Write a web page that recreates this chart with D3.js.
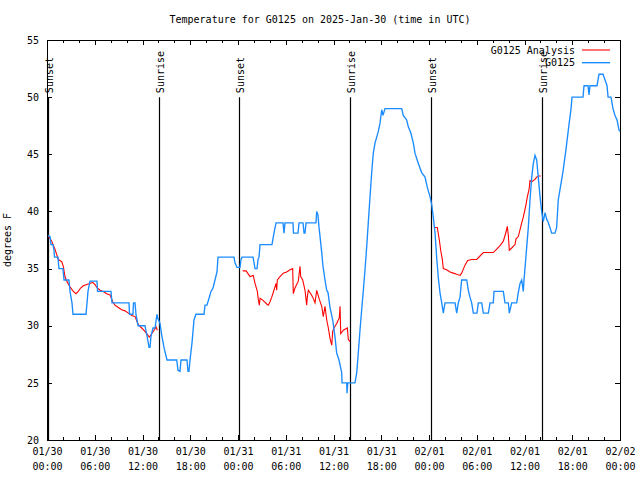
<!DOCTYPE html>
<html><head><meta charset="utf-8">
<script src="https://cdn.jsdelivr.net/npm/d3@7"></script>
<style>
body{margin:0;background:#fff}
svg{display:block}
text{font-family:"DejaVu Sans Mono",monospace;font-size:10px;fill:#000}
</style>
</head><body><svg id="c" width="640" height="480"></svg>
<script>
const chartTitle = "Temperature for G0125 on 2025-Jan-30 (time in UTC)";
const yLabel = "degrees F";
const seriesNames = ["G0125 Analysis", "G0125"];
const yTicks = [20, 25, 30, 35, 40, 45, 50, 55];
const startDate = "2025-01-30T00:00:00Z";
const endDate = "2025-02-02T00:00:00Z";
const eventNames = ["Sunset", "Sunrise", "Sunset", "Sunrise", "Sunset", "Sunrise"];
const eventHours = [0.15, 14.07, 24.17, 38.12, 48.2, 62.17];

// observed G0125: hours since 01/30 00:00 UTC, temperature F
const obsHours = [0.13,0.38,0.5,0.75,0.88,0.94,1.38,1.5,2.0,2.14,2.76,2.89,3.14,3.27,4.9,5.03,5.15,5.4,6.28,6.35,8.04,8.17,10.3,10.37,10.8,10.87,11.06,11.18,11.44,12.31,12.57,12.82,12.94,13.07,13.32,13.57,13.82,13.95,14.2,14.41,14.7,15.08,16.3,16.46,16.71,16.84,17.59,17.72,17.84,17.97,18.22,18.47,18.72,19.73,19.85,20.1,20.36,20.61,20.86,21.11,21.36,21.49,23.5,23.62,23.88,24.25,24.38,24.5,25.89,26.14,26.39,26.52,26.64,26.77,28.27,28.52,28.78,29.66,29.78,29.91,30.91,30.97,31.54,31.67,32.17,32.3,32.42,32.55,33.8,33.89,34.05,34.18,34.31,34.52,34.68,34.93,35.15,35.31,35.56,35.9,36.19,36.4,36.69,37.03,37.07,37.66,37.7,37.79,38.7,38.92,39.08,39.33,39.54,39.75,39.96,40.17,40.37,40.59,40.8,41.0,41.22,41.43,41.63,41.84,42.06,42.22,42.47,44.57,44.77,45.2,45.4,45.7,46.03,46.24,46.66,47.08,47.5,47.79,48.13,48.34,48.54,48.76,48.97,49.17,49.38,49.6,49.8,50.01,51.27,51.48,51.68,51.9,52.1,52.74,52.94,53.15,53.36,53.57,54.03,54.2,54.62,54.83,55.46,55.67,56.08,56.17,57.34,57.55,57.97,58.09,58.39,59.02,59.22,59.44,59.65,59.85,59.94,60.28,60.48,60.69,60.91,61.11,61.32,61.53,61.73,61.95,62.16,62.36,62.58,62.79,62.95,63.2,63.41,63.83,64.04,64.24,64.46,64.84,65.21,65.59,65.85,65.97,67.35,67.48,67.98,68.11,68.23,69.11,69.36,69.87,70.12,70.37,70.5,70.87,71.12,71.37,71.63,71.88,72.0];
const obsTemp = [37.9,37.8,37.1,37.1,36.6,36.0,36.0,35.0,35.0,34.0,34.0,33.0,32.0,31.0,31.0,32.0,33.0,33.9,33.9,33.0,33.0,32.0,32.0,31.0,31.0,32.0,32.0,31.0,30.0,30.0,29.1,28.1,28.1,29.1,29.8,29.8,31.0,30.6,30.2,29.2,28.1,27.0,27.0,26.1,26.0,27.0,27.0,26.0,26.0,27.0,28.5,30.5,31.0,31.0,31.8,31.8,32.4,33.0,33.3,34.0,34.7,36.0,36.0,35.5,35.1,35.1,35.8,36.0,36.0,35.0,35.0,35.8,36.0,37.1,37.1,38.1,39.0,39.0,38.1,39.0,39.0,38.1,38.1,39.0,39.0,38.1,38.1,39.0,39.0,40.0,39.7,38.6,37.8,36.4,35.2,34.0,33.1,32.9,31.6,30.5,29.0,27.6,27.0,25.9,25.0,25.0,24.1,25.0,25.0,25.9,27.3,29.6,31.4,33.1,34.9,36.9,39.0,41.3,43.4,45.1,46.0,46.5,47.0,47.7,48.9,48.4,49.0,49.0,48.4,48.0,47.4,46.9,46.0,45.1,44.2,43.4,43.0,42.1,41.3,40.6,39.5,38.1,35.9,34.2,32.9,32.0,31.1,32.0,32.0,31.1,32.0,32.5,34.0,34.0,33.1,32.5,32.0,31.1,31.1,32.0,32.0,31.1,31.1,32.0,32.0,33.0,33.0,32.0,32.0,31.1,32.0,32.0,32.9,33.7,34.0,33.0,34.0,36.9,38.6,41.0,43.0,44.2,44.9,44.5,43.0,41.3,40.0,39.1,39.9,39.3,39.1,38.6,38.1,38.1,38.6,41.0,41.9,43.5,45.4,47.6,49.0,50.0,50.0,51.0,51.0,50.2,51.0,51.0,52.0,52.0,51.5,51.0,50.0,50.0,49.0,48.4,48.0,47.1,47.0];

// G0125 Analysis (null = no data)
const anaHours = [0.13,0.59,1.0,1.42,1.85,2.05,2.26,2.48,2.89,3.3,3.64,3.93,4.23,4.56,4.99,5.4,5.74,6.03,6.32,6.66,7.07,7.5,7.92,8.26,8.54,8.96,9.39,9.8,10.22,10.64,11.06,11.47,11.9,12.19,12.53,12.86,13.16,13.45,13.7,13.86,null,24.59,25.01,25.51,25.92,26.14,26.43,26.55,26.68,26.77,27.18,27.61,27.81,28.02,28.24,28.52,28.78,28.86,28.94,29.28,29.69,30.12,30.54,30.87,30.95,31.16,31.58,31.79,31.88,32.13,32.42,32.63,32.71,32.84,33.14,33.39,33.68,33.89,34.22,34.52,34.72,34.93,35.15,35.35,35.56,35.78,35.9,36.06,36.4,36.73,36.82,36.91,37.23,37.74,37.86,38.08,null,48.76,49.04,49.3,49.47,49.67,49.8,50.22,50.64,51.06,51.48,51.9,52.1,52.52,52.86,53.37,54.0,54.41,54.83,56.08,56.51,56.92,57.34,57.68,57.84,57.97,58.09,58.39,58.81,58.93,59.22,59.44,59.65,59.85,60.19,60.36,60.57,60.69,60.91,61.32,61.53,61.73,62.04];
const anaTemp = [37.9,37.4,36.7,35.8,35.6,35.2,34.3,33.9,33.4,33.0,32.8,33.0,33.3,33.5,33.6,33.7,33.8,33.6,33.3,33.1,33.0,32.8,32.7,32.1,31.8,31.6,31.4,31.3,31.1,30.9,30.8,30.1,29.8,29.6,29.3,29.0,29.3,29.6,29.9,29.6,null,34.8,34.8,34.3,34.4,33.7,33.0,32.3,31.8,32.4,32.2,31.9,31.8,32.1,32.5,33.1,33.7,33.1,34.0,34.3,34.6,34.7,34.9,35.0,32.8,33.3,33.9,35.2,34.3,34.0,33.1,31.8,32.5,33.1,32.8,32.5,32.0,33.1,32.3,31.7,30.8,31.7,30.5,29.8,28.9,28.3,29.5,29.8,30.2,30.7,31.7,29.3,29.6,29.8,28.8,28.6,null,38.6,38.6,37.5,36.6,35.8,35.0,34.9,34.7,34.6,34.5,34.4,34.6,35.3,35.7,35.8,35.8,36.1,36.4,36.4,36.7,37.0,37.4,38.2,38.7,37.9,36.6,36.8,37.1,37.6,37.8,38.4,39.0,39.5,40.6,41.3,41.9,42.7,42.6,42.8,43.0,43.1,43.1];

const svg = d3.select("#c");
const L = 47, R = 620, T = 40, B = 440;
const t0 = new Date(startDate), t1 = new Date(endDate);
const x = d3.scaleUtc().domain([t0, t1]).range([L, R]);
const y = d3.scaleLinear().domain([20, 55]).range([B, T]);
const hToDate = h => new Date(t0.getTime() + h * 3600000);

// title
svg.append("text").attr("x", 320).attr("y", 23).attr("text-anchor", "middle").text(chartTitle);
// y label
svg.append("text").attr("transform", "translate(11,240) rotate(-90)").attr("text-anchor", "middle").text(yLabel);

// axes
const fmtD = d3.utcFormat("%m/%d"), fmtT = d3.utcFormat("%H:%M");
const gx = svg.append("g").attr("transform", `translate(0,${B})`)
  .call(d3.axisBottom(x).ticks(d3.utcHour.every(6)).tickSize(-5).tickPadding(6).tickFormat(""));
gx.selectAll(".tick").each(function(d) {
  const t = d3.select(this).append("text").attr("text-anchor", "middle").attr("fill", "#000");
  t.append("tspan").attr("x", 0).attr("y", 15).text(fmtD(d));
  t.append("tspan").attr("x", 0).attr("y", 30).text(fmtT(d));
});
svg.append("g").attr("transform", `translate(0,${B})`)
  .call(d3.axisBottom(x).ticks(d3.utcHour.every(2)).tickSize(-3).tickFormat(""));
svg.append("g").attr("transform", `translate(0,${T})`)
  .call(d3.axisTop(x).ticks(d3.utcHour.every(6)).tickSize(-5).tickFormat(""));
svg.append("g").attr("transform", `translate(0,${T})`)
  .call(d3.axisTop(x).ticks(d3.utcHour.every(2)).tickSize(-3).tickFormat(""));
const gy = svg.append("g").attr("transform", `translate(${L},0)`)
  .call(d3.axisLeft(y).tickValues(yTicks).tickSize(-5).tickPadding(8).tickFormat(d3.format("d")));
svg.append("g").attr("transform", `translate(${R},0)`)
  .call(d3.axisRight(y).tickValues(yTicks).tickSize(-5).tickFormat(""));
svg.selectAll(".domain").remove();
svg.selectAll(".tick line").attr("stroke", "#000").attr("shape-rendering", "crispEdges");
svg.selectAll(".tick text").attr("font-family", "DejaVu Sans Mono").attr("font-size", 10);

// border
svg.append("rect").attr("x", L).attr("y", T).attr("width", R - L).attr("height", B - T)
  .attr("fill", "none").attr("stroke", "#000").attr("shape-rendering", "crispEdges");

// event lines
eventHours.forEach((h, i) => {
  const ex = Math.round(x(hToDate(h))) + 0.5;
  svg.append("line").attr("x1", ex).attr("x2", ex).attr("y1", y(50)).attr("y2", B)
    .attr("stroke", "#000").attr("stroke-width", 1.2);
  svg.append("text").attr("transform", `translate(${ex + 1},${y(50) - 4}) rotate(-90)`)
    .attr("dominant-baseline", "central").text(eventNames[i]);
});

const line = d3.line().defined(d => d[0] != null && d[1] != null)
  .x(d => x(hToDate(d[0]))).y(d => y(d[1]));
const anaData = anaHours.map((h, i) => [h, anaTemp[i]]);
const obsData = obsHours.map((h, i) => [h, obsTemp[i]]);
svg.append("path").datum(anaData).attr("d", line).attr("fill", "none").attr("stroke", "#ff0000").attr("stroke-width", 1.1);
svg.append("path").datum(obsData).attr("d", line).attr("fill", "none").attr("stroke", "#1a8cff").attr("stroke-width", 1.35);

// legend
const legColors = ["#ff0000", "#1a8cff"];
seriesNames.forEach((n, i) => {
  const ly = 50 + i * 12.7;
  svg.append("text").attr("x", 575).attr("y", ly).attr("text-anchor", "end").attr("dominant-baseline", "central").text(n);
  svg.append("line").attr("x1", 582).attr("x2", 610).attr("y1", ly).attr("y2", ly)
    .attr("stroke", legColors[i]).attr("stroke-width", i ? 1.35 : 1.1);
});
</script>
</body></html>
